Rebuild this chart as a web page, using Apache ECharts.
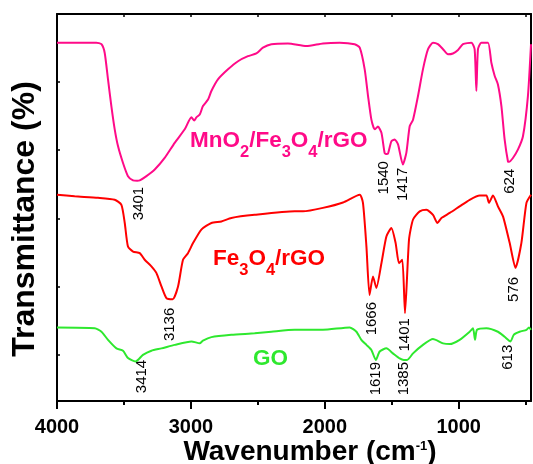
<!DOCTYPE html>
<html>
<head>
<meta charset="utf-8">
<script src="https://cdn.jsdelivr.net/npm/echarts@6/dist/echarts.min.js"></script>
<style>
  html, body { margin: 0; padding: 0; background: #fff; }
  #chart { width: 533px; height: 464px; }
</style>
</head>
<body>
<div id="chart"></div>
<script>
// FTIR spectra: wavenumber (cm-1) against transmittance (offset traces, arbitrary units)

// MnO2/Fe3O4/rGO
const mnWn = [4000, 3706, 3668, 3644, 3619, 3594, 3569, 3544, 3507, 3470, 3432, 3401, 3382, 3332, 3270, 3196, 3121, 3046, 2996, 2975, 2959, 2934, 2910, 2872, 2847, 2798, 2723, 2648, 2574, 2511, 2462, 2399, 2275, 2138, 2014, 1889, 1777, 1739, 1702, 1677, 1652, 1627, 1603, 1577, 1553, 1540, 1528, 1503, 1478, 1453, 1417, 1391, 1366, 1341, 1304, 1267, 1229, 1192, 1155, 1117, 1080, 1043, 1005, 968, 905, 881, 868, 856, 831, 781, 756, 731, 707, 681, 657, 632, 624, 595, 557, 520, 483, 460];
const mnT = [92.6, 92.6, 92.2, 90.0, 83.1, 76.2, 70.2, 65.8, 61.5, 58.1, 57.0, 56.9, 57.0, 58.1, 59.8, 62.8, 66.7, 70.2, 73.3, 72.5, 73.3, 74.0, 76.2, 77.9, 80.1, 83.1, 85.7, 87.8, 89.1, 89.8, 91.3, 92.2, 92.4, 91.7, 92.4, 92.6, 92.2, 91.3, 85.7, 78.8, 72.7, 70.2, 70.9, 69.3, 64.1, 63.8, 63.9, 67.1, 67.6, 66.3, 61.1, 64.1, 71.0, 72.7, 78.8, 85.7, 90.9, 92.6, 92.2, 90.9, 89.6, 89.8, 90.7, 92.2, 92.6, 90.9, 80.1, 90.9, 92.6, 92.6, 87.4, 84.0, 81.8, 76.2, 67.6, 61.9, 61.8, 62.8, 65.0, 68.4, 78.8, 92.2];
const mnPeaks = [3401, 1540, 1417, 624];

// Fe3O4/rGO
const feWn = [4000, 3868, 3694, 3569, 3519, 3494, 3470, 3432, 3382, 3345, 3295, 3258, 3220, 3183, 3136, 3096, 3059, 3022, 2984, 2922, 2847, 2772, 2698, 2524, 2225, 2163, 2014, 1864, 1739, 1715, 1689, 1666, 1640, 1615, 1577, 1540, 1503, 1471, 1446, 1421, 1401, 1371, 1341, 1291, 1241, 1192, 1159, 1129, 1067, 993, 918, 843, 793, 774, 744, 707, 669, 619, 576, 532, 494, 460];
const feT = [53.3, 52.9, 52.5, 52.0, 50.7, 46.0, 39.9, 38.6, 38.2, 36.5, 34.8, 33.1, 29.6, 26.6, 26.3, 29.6, 36.5, 38.2, 40.8, 44.3, 46.0, 46.4, 47.3, 48.1, 49.0, 49.0, 49.9, 51.3, 53.3, 51.2, 39.9, 27.4, 32.2, 29.2, 35.6, 42.5, 44.7, 40.8, 35.6, 36.5, 22.7, 41.7, 46.9, 49.0, 49.4, 48.1, 46.0, 47.3, 48.6, 50.3, 52.0, 53.1, 53.1, 51.2, 53.1, 50.3, 47.7, 40.8, 34.4, 40.8, 51.2, 53.3];
const fePeaks = [3136, 1666, 1401, 576];

// GO
const goWn = [4000, 3718, 3668, 3619, 3556, 3507, 3470, 3414, 3358, 3295, 3220, 3121, 2996, 2934, 2910, 2847, 2698, 2524, 2399, 2225, 2014, 1814, 1764, 1727, 1689, 1652, 1619, 1590, 1540, 1491, 1441, 1410, 1385, 1341, 1267, 1192, 1117, 1067, 993, 918, 893, 878, 863, 793, 707, 657, 613, 589, 545, 494, 475, 460];
const goT = [19.0, 18.8, 17.9, 15.8, 13.6, 13.0, 11.1, 10.2, 11.9, 13.0, 13.6, 14.5, 15.4, 14.9, 15.6, 16.5, 17.1, 17.5, 17.9, 18.4, 18.4, 19.0, 17.9, 15.8, 14.5, 13.2, 10.6, 12.8, 13.6, 12.3, 11.0, 10.6, 10.6, 12.3, 14.5, 16.0, 14.9, 14.7, 15.8, 17.9, 18.8, 15.8, 18.4, 18.8, 17.9, 16.6, 15.4, 17.1, 17.9, 18.4, 19.0, 18.4];
const goPeaks = [3414, 1619, 1385, 613];

// axis ticks
const xMajorTicks = [4000, 3000, 2000, 1000];
const xMinorTicks = [3500, 2500, 1500, 500];
const xTopTicks = [4000, 3500, 3000, 2500, 2000, 1500, 1000, 500];
const yTicks = [12.0, 29.6, 47.2, 64.8, 82.4];

const X_MIN = 460, X_MAX = 4000;
const FONT = '"Liberation Sans", Arial, Helvetica, sans-serif';
const MAGENTA = '#FF0A88', RED = '#FF0000', GREEN = '#2EE82E';

const zip = (xs, ys) => xs.map((x, i) => [x, ys[i]]);

const chart = echarts.init(document.getElementById('chart'), null, { renderer: 'canvas' });

const baseX = {
  type: 'value', inverse: true, min: X_MIN, max: X_MAX,
  splitLine: { show: false },
  axisLine: { onZero: false }
};

const lineSeries = (name, data, color) => ({
  name, type: 'line', data, xAxisIndex: 0, yAxisIndex: 0,
  showSymbol: false, smooth: 0.2, silent: true,
  lineStyle: { color, width: 2 }
});

chart.setOption({
  animation: false,
  backgroundColor: '#fff',
  grid: { left: 57, top: 14, width: 474, height: 387 },
  xAxis: [
    Object.assign({}, baseX, {
      position: 'bottom',
      axisLine: { show: true, onZero: false, lineStyle: { color: '#000', width: 2 } },
      axisTick: { show: true, inside: false, length: 8, customValues: xMajorTicks, lineStyle: { color: '#000', width: 2 } },
      axisLabel: {
        show: true, customValues: xMajorTicks, margin: 16, color: '#000',
        fontFamily: FONT, fontWeight: 'bold', fontSize: 20,
        formatter: v => String(v)
      }
    }),
    Object.assign({}, baseX, {
      position: 'bottom',
      axisLine: { show: false, onZero: false },
      axisTick: { show: true, inside: false, length: 4, customValues: xMinorTicks, lineStyle: { color: '#000', width: 2 } },
      axisLabel: { show: false }
    }),
    Object.assign({}, baseX, {
      position: 'top',
      axisLine: { show: true, onZero: false, lineStyle: { color: '#000', width: 2 } },
      axisTick: { show: true, inside: true, length: 3, customValues: xTopTicks, lineStyle: { color: '#000', width: 1.5 } },
      axisLabel: { show: false }
    })
  ],
  yAxis: [
    {
      type: 'value', min: 0, max: 100, position: 'left',
      splitLine: { show: false },
      axisLine: { show: true, onZero: false, lineStyle: { color: '#000', width: 2 } },
      axisTick: { show: true, inside: true, length: 3, customValues: yTicks, lineStyle: { color: '#000', width: 1.5 } },
      axisLabel: { show: false }
    },
    {
      type: 'value', min: 0, max: 100, position: 'right',
      splitLine: { show: false },
      axisLine: { show: true, onZero: false, lineStyle: { color: '#000', width: 2 } },
      axisTick: { show: false },
      axisLabel: { show: false }
    }
  ],
  series: [
    lineSeries('MnO2/Fe3O4/rGO', zip(mnWn, mnT), MAGENTA),
    lineSeries('Fe3O4/rGO', zip(feWn, feT), RED),
    lineSeries('GO', zip(goWn, goT), GREEN)
  ]
});

// Peak annotations: vertical text just under each band minimum
const peakOffsets = {
  3401: [1.5, 6], 1540: [-2.7, 7], 1417: [0, 3], 624: [0.7, 7],
  3136: [-3, 8.5], 1666: [2, 7], 1401: [0, 5], 576: [-2, 9],
  3414: [6.5, -1.7], 1619: [0, 2], 1385: [-3, 2], 613: [-2.5, 3.3]
};
const peakSets = [[mnPeaks, mnWn, mnT], [fePeaks, feWn, feT], [goPeaks, goWn, goT]];
const graphics = [];
peakSets.forEach(([peaks, wn, t]) => {
  peaks.forEach(p => {
    const v = t[wn.indexOf(p)];
    const pt = chart.convertToPixel({ xAxisIndex: 0, yAxisIndex: 0 }, [p, v]);
    const off = peakOffsets[p] || [0, 5];
    graphics.push({
      type: 'text', x: pt[0] + off[0], y: pt[1] + off[1], rotation: Math.PI / 2, silent: true,
      style: {
        text: String(p), fill: '#000', font: '15px ' + FONT,
        align: 'right', verticalAlign: 'middle', textAlign: 'right', textVerticalAlign: 'middle'
      }
    });
  });
});

// Sample names with subscripts
const nameRich = color => ({
  n: { fontFamily: FONT, fontWeight: 'bold', fontSize: 22.5, color, lineHeight: 40, verticalAlign: 'middle' },
  s: { fontFamily: FONT, fontWeight: 'bold', fontSize: 16.5, color, lineHeight: 16, verticalAlign: 'bottom' }
});
const nameText = (x, y, text, color) => ({
  type: 'text', x, y, silent: true,
  style: { text, rich: nameRich(color), fill: color, align: 'left', verticalAlign: 'top', textAlign: 'left', textVerticalAlign: 'top' }
});
graphics.push(nameText(190, 121, '{n|MnO}{s|2}{n|/Fe}{s|3}{n|O}{s|4}{n|/rGO}', MAGENTA));
graphics.push(nameText(213, 239, '{n|Fe}{s|3}{n|O}{s|4}{n|/rGO}', RED));
graphics.push(nameText(253, 339, '{n|GO}', GREEN));

// Axis titles
graphics.push({
  type: 'text', x: 310, y: 452, silent: true,
  style: {
    text: '{t|Wavenumber (cm}{p|-1}{t|)}', fill: '#000',
    align: 'center', verticalAlign: 'middle', textAlign: 'center', textVerticalAlign: 'middle',
    rich: {
      t: { fontFamily: FONT, fontWeight: 'bold', fontSize: 28, lineHeight: 30, verticalAlign: 'middle', color: '#000' },
      p: { fontFamily: FONT, fontWeight: 'bold', fontSize: 13, lineHeight: 13, verticalAlign: 'top', color: '#000', padding: [3, 0, 0, 0] }
    }
  }
});
graphics.push({
  type: 'text', x: 25, y: 219, rotation: Math.PI / 2, silent: true,
  style: {
    text: 'Transmittance (%)', fill: '#000', font: 'bold 32px ' + FONT,
    align: 'center', verticalAlign: 'middle', textAlign: 'center', textVerticalAlign: 'middle'
  }
});

chart.setOption({ graphic: graphics });
</script>
</body>
</html>
